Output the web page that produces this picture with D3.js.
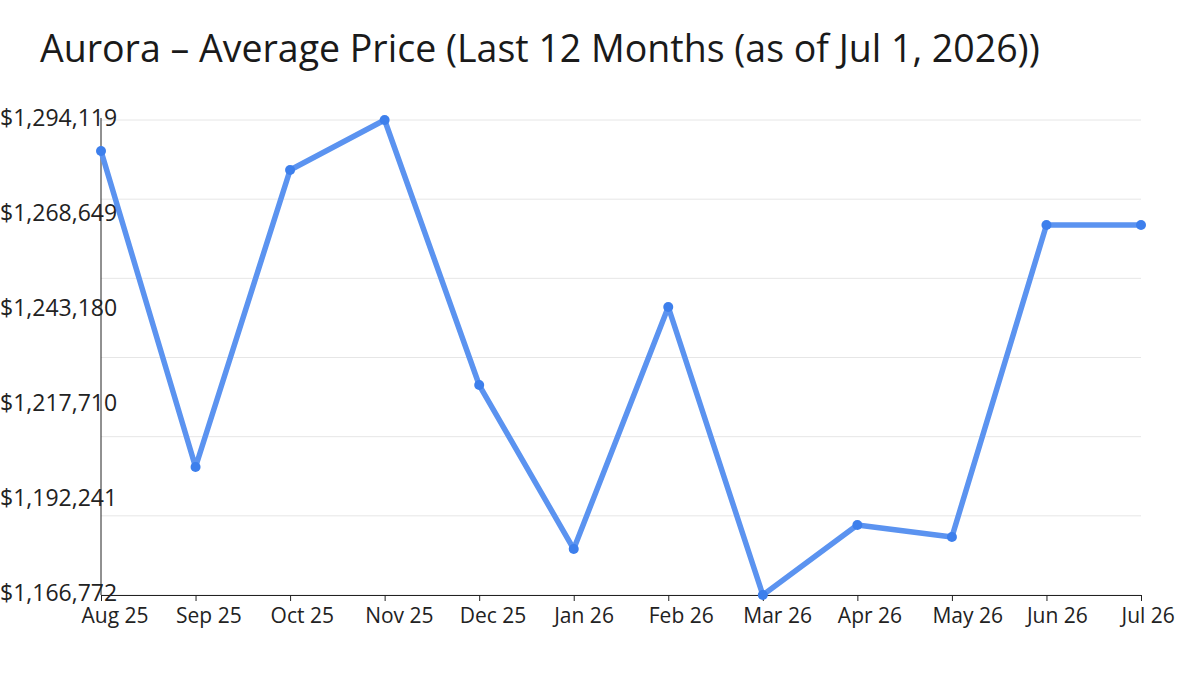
<!DOCTYPE html>
<meta charset="utf-8">
<html>
<head>
<style>
  body { margin: 0; background: #fff; }
  text { font-family: "Open Sans", "Noto Sans", sans-serif; fill: #222; }
  .grid line { stroke: #e6e6e6; stroke-width: 1px; }
  .line { fill: none; stroke: #5b93f0; stroke-width: 5.5px; stroke-linejoin: round; }
  .dot { fill: #3d7fec; }
</style>
</head>
<body>
<svg width="1200" height="675"></svg>
<script src="https://d3js.org/d3.v7.min.js"></script>
<script>

// data
var months = ["Aug 25", "Sep 25", "Oct 25", "Nov 25", "Dec 25", "Jan 26",
              "Feb 26", "Mar 26", "Apr 26", "May 26", "Jun 26", "Jul 26"];
var prices = [1285808, 1201088, 1280714, 1294119, 1223072, 1179104,
              1243984, 1166772, 1185538, 1182321, 1265968, 1265968];
var yLabels = [1294119, 1268649, 1243180, 1217710, 1192241, 1166772];

var svg = d3.select("svg"),
    margin = {top: 120, right: 59, bottom: 80, left: 101},
    width = 1200 - margin.left - margin.right,
    height = 675 - margin.top - margin.bottom;

var x = d3.scalePoint().domain(months).range([0, width]);
var y = d3.scaleLinear().domain([1166772, 1294119]).range([height, 0]);

svg.append("text")
    .attr("x", 40)
    .attr("y", 62)
    .style("font-size", "37.5px")
    .style("fill", "#1a1a1a")
    .text("Aurora \u2013 Average Price (Last 12 Months (as of Jul 1, 2026))");

var g = svg.append("g")
    .attr("transform", "translate(" + margin.left + "," + margin.top + ")");

// gridlines (six even bands)
var gridVals = d3.range(7).map(function(i) { return y.domain()[0] + i * (y.domain()[1] - y.domain()[0]) / 6; });
g.append("g").attr("class", "grid")
  .selectAll("line").data(gridVals).enter().append("line")
    .attr("x1", 0).attr("x2", width)
    .attr("y1", function(d) { return y(d); })
    .attr("y2", function(d) { return y(d); });

// y labels, left aligned at the page edge
var fmt = d3.format("$,.0f");
svg.append("g").selectAll("text").data(yLabels).enter().append("text")
    .attr("x", 0)
    .attr("y", function(d) { return margin.top + y(d); })
    .attr("dy", "0.28em")
    .style("font-size", "23px")
    .text(function(d) { return fmt(d); });

// left axis line
g.append("line")
    .attr("x1", 0).attr("x2", 0)
    .attr("y1", -2).attr("y2", height)
    .attr("stroke", "#222").attr("stroke-width", 1);

// x axis
var xAxis = g.append("g")
    .attr("transform", "translate(0," + height + ")")
    .call(d3.axisBottom(x).tickSizeOuter(0).tickSize(6));
xAxis.select(".domain").attr("stroke", "#222");
xAxis.selectAll(".tick line").attr("stroke", "#222");
// labels start just left of the tick, like the original
xAxis.selectAll(".tick text")
    .attr("text-anchor", "start")
    .attr("x", -20)
    .attr("y", 28)
    .attr("dy", 0)
    .style("font-size", "21px")
    .style("font-family", "'Open Sans', 'Noto Sans', sans-serif")
    .attr("fill", "#222");

var pts = months.map(function(m, i) { return {m: m, v: prices[i]}; });

var line = d3.line()
    .x(function(d) { return x(d.m); })
    .y(function(d) { return y(d.v); });

g.append("path")
    .datum(pts)
    .attr("class", "line")
    .attr("d", line);

g.selectAll(".dot").data(pts).enter().append("circle")
    .attr("class", "dot")
    .attr("cx", function(d) { return x(d.m); })
    .attr("cy", function(d) { return y(d.v); })
    .attr("r", 5);

</script>
</body>
</html>
